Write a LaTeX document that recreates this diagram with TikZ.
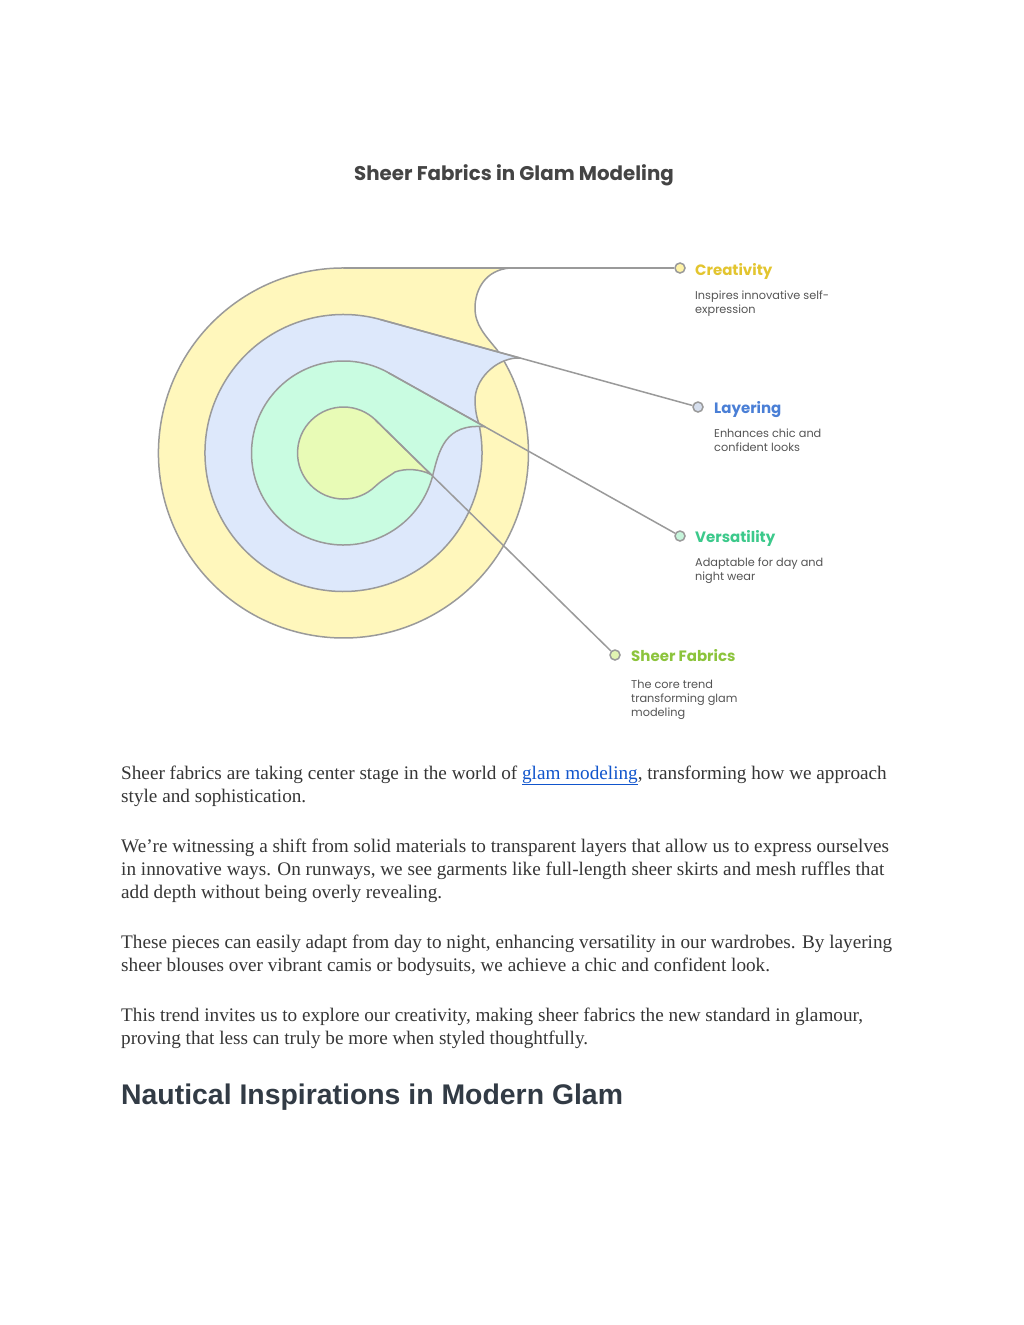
\documentclass[tikz,border=0pt]{standalone}
\usepackage{fontspec}
\setmainfont{Liberation Serif}
\newfontfamily\dfont{Poppins}
\newfontfamily\hfont{Liberation Sans}
\definecolor{cyel}{HTML}{FFF7BC}
\definecolor{cblu}{HTML}{DDE8FB}
\definecolor{cgrn}{HTML}{C9FCE1}
\definecolor{clim}{HTML}{E8FBB6}
\definecolor{edge}{HTML}{9A9A9A}
\definecolor{tyel}{HTML}{E3C52F}
\definecolor{tblu}{HTML}{4A7FD6}
\definecolor{tgrn}{HTML}{3CC98B}
\definecolor{tlim}{HTML}{8CC43C}
\definecolor{dyel}{HTML}{FFF3A6}
\definecolor{dblu}{HTML}{D6DFEE}
\definecolor{dgrn}{HTML}{C6F5DB}
\definecolor{dlim}{HTML}{E2F4B2}
\definecolor{descc}{HTML}{555555}
\definecolor{titc}{HTML}{444444}
\definecolor{bodyc}{HTML}{363636}
\definecolor{headc}{HTML}{323B45}
\definecolor{linkc}{HTML}{1155CC}
\begin{document}
\begin{tikzpicture}[x=1pt,y=1pt,
  ring/.style={draw=edge, line width=1.5pt, line join=round},
  conn/.style={draw=edge, line width=1.5pt},
  dot/.style={circle, draw=edge, line width=1.5pt, minimum size=10pt, inner sep=0pt},
  ltitle/.style={anchor=base west, inner sep=0pt, font=\dfont\bfseries\fontsize{15}{18}\selectfont},
  ldesc/.style={anchor=base west, inner sep=0pt, text=descc, font=\dfont\fontsize{11.3}{14}\selectfont},
  body/.style={anchor=base west, inner sep=0pt, text=bodyc, font=\fontsize{19.2}{23}\selectfont}
]
\fill[white] (0,0) rectangle (1024,-1325);
\useasboundingbox (0,0) rectangle (1024,-1325);

% title
\node[inner sep=0pt, text=titc, font=\dfont\bfseries\fontsize{19.8}{24}\selectfont] (title) at (514,-175) {Sheer Fabrics in Glam Modeling};

% tangent points
\coordinate (t1) at (343.5,-268);
\coordinate (t2) at (380.3,-319.5);
\coordinate (t3) at (388.5,-372.8);
\coordinate (t4) at (375.7,-420.2);

% shapes
\path[ring, fill=cyel] (t1) -- (510,-268) .. controls (485,-270) and (475,-290) .. (475,-308) .. controls (475,-325) and (485,-335) .. (497,-349.8) arc[start angle=33.9, end angle=-270, radius=185] -- cycle;
\path[ring, fill=cblu] (t2) -- (520,-358) .. controls (500,-357) and (477,-375) .. (475,-398) .. controls (475,-408) and (476,-415) .. (478.7,-423.0) arc[start angle=12.5, end angle=-285.4, radius=138.5] -- cycle;
\path[ring, fill=cgrn] (t3) -- (485,-426.8) .. controls (445,-423) and (439,-450) .. (432.4,-476.8) arc[start angle=-15, end angle=-299.3, radius=92] -- cycle;
\path[ring, fill=clim] (t4) -- (431,-474.5) .. controls (420,-469) and (406,-468) .. (395,-472) .. controls (388,-477) and (382,-480) .. (375.5,-486.1) arc[start angle=-46, end angle=-314.46, radius=46] -- cycle;

% dots
\node[dot, fill=dyel] (d1) at (680,-268) {};
\node[dot, fill=dblu] (d2) at (698,-407) {};
\node[dot, fill=dgrn] (d3) at (680,-536) {};
\node[dot, fill=dlim] (d4) at (615,-655) {};

% connectors
\draw[conn] (t1) -- (d1);
\draw[conn] (t2) -- (d2);
\draw[conn] (t3) -- (d3);
\draw[conn] (t4) -- (d4);

% labels
\node[ltitle, text=tyel] (l1) at (695,-275) {Creativity};
\node[ldesc] (l1a) at (695,-299) {Inspires innovative self-};
\node[ldesc] (l1b) at (695,-313) {expression};
\node[ltitle, text=tblu] (l2) at (714,-413) {Layering};
\node[ldesc] (l2a) at (714,-437) {Enhances chic and};
\node[ldesc] (l2b) at (714,-451) {confident looks};
\node[ltitle, text=tgrn] (l3) at (695,-542) {Versatility};
\node[ldesc] (l3a) at (695,-566) {Adaptable for day and};
\node[ldesc] (l3b) at (695,-580) {night wear};
\node[ltitle, text=tlim] (l4) at (631,-661) {Sheer Fabrics};
\node[ldesc] (l4a) at (631,-688) {The core trend};
\node[ldesc] (l4b) at (631,-702) {transforming glam};
\node[ldesc] (l4c) at (631,-716) {modeling};

% body text
\node[body] (p1a) at (121,-779) {Sheer fabrics are taking center stage in the world of {\color{linkc}\underline{glam modeling}}, transforming how we approach};
\node[body] (p1b) at (121,-802) {style and sophistication.};
\node[body] (p2a) at (121,-852) {We’re witnessing a shift from solid materials to transparent layers that allow us to express ourselves};
\node[body] (p2b) at (121,-875) {in innovative ways. On runways, we see garments like full-length sheer skirts and mesh ruffles that};
\node[body] (p2c) at (121,-898) {add depth without being overly revealing.};
\node[body] (p3a) at (121,-948) {These pieces can easily adapt from day to night, enhancing versatility in our wardrobes. By layering};
\node[body] (p3b) at (121,-971) {sheer blouses over vibrant camis or bodysuits, we achieve a chic and confident look.};
\node[body] (p4a) at (121,-1021) {This trend invites us to explore our creativity, making sheer fabrics the new standard in glamour,};
\node[body] (p4b) at (121,-1044) {proving that less can truly be more when styled thoughtfully.};

\node[anchor=base west, inner sep=0pt, text=headc, font=\hfont\bfseries\fontsize{28.4}{32}\selectfont] (h) at (121,-1104) {Nautical Inspirations in Modern Glam};
\end{tikzpicture}
\end{document}
